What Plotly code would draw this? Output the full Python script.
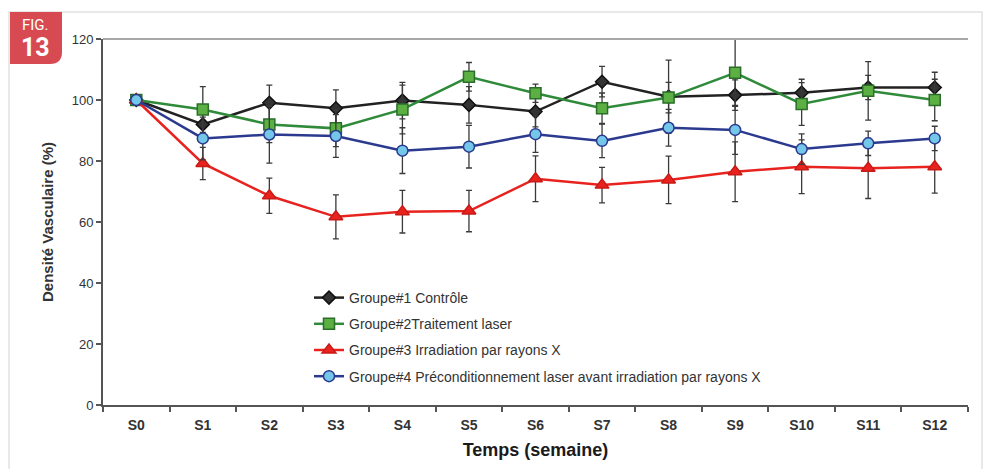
import plotly.graph_objects as go

categories = ["S0", "S1", "S2", "S3", "S4", "S5", "S6", "S7", "S8", "S9", "S10", "S11", "S12"]

g1_name = "Groupe#1 Contrôle"
g1_vals = [100, 92.0, 99.1, 97.3, 99.8, 98.4, 96.2, 106.0, 101.1, 101.6, 102.4, 104.1, 104.1]
g1_err = [0, 5, 5.8, 6, 6, 6, 5, 5, 12, 5, 4.4, 4, 5]

g2_name = "Groupe#2Traitement laser"
g2_vals = [100, 96.9, 92.0, 90.7, 96.9, 107.6, 102.2, 97.3, 100.8, 108.9, 98.7, 103.0, 100.0]
g2_err = [0, 7.5, 6, 6, 8, 4.7, 3, 5, 5, 11, 7, 9.6, 6.8]

g3_name = "Groupe#3 Irradiation par rayons X"
g3_vals = [100, 79.2, 68.6, 61.7, 63.4, 63.6, 74.2, 72.1, 73.8, 76.5, 78.1, 77.6, 78.1]
g3_err = [0, 5.3, 5.8, 7.2, 7.0, 6.8, 7.5, 5.8, 7.8, 9.8, 8.8, 9.9, 8.6]

g4_name = "Groupe#4 Préconditionnement laser avant irradiation par rayons X"
g4_vals = [100, 87.4, 88.7, 88.2, 83.4, 84.7, 88.8, 86.6, 90.9, 90.2, 83.9, 85.8, 87.4]
g4_err = [0, 7, 9.4, 7, 7.5, 7, 6, 5.5, 6, 8, 5, 4, 4]

y_ticks = [0, 20, 40, 60, 80, 100, 120]

# page body has an 8px margin; work in window pixels and convert
OFF = 8
W, H = 996 - OFF, 469 - OFF
L, R, T, B = 103 - OFF, 28, 39 - OFF, 64


def px(x):
    return (x - OFF - L) / (W - L - R)


def py(y):
    return (H - B - (y - OFF)) / (H - T - B)


fig = go.Figure()

series = [
    (g1_name, g1_vals, g1_err, "#222222", "diamond", 10, "#333333", "#111111"),
    (g2_name, g2_vals, g2_err, "#2f8a3a", "square", 11, "#5cb043", "#2a6e2a"),
    (g3_name, g3_vals, g3_err, "#e8231f", "triangle-up", 12, "#e8231f", "#c81a16"),
    (g4_name, g4_vals, g4_err, "#2b3a8f", "circle", 11, "#74c7e8", "#2b3a8f"),
]

for i, (name, vals, err, lc, sym, sz, fc, oc) in enumerate(series):
    fig.add_trace(go.Scatter(
        x=categories, y=vals, name=name, mode="lines+markers",
        legendgroup=f"g{i}",
        line=dict(color=lc, width=2.5),
        marker=dict(symbol=sym, size=sz, color=fc, line=dict(color=oc, width=1.5)),
        error_y=dict(type="data", array=err, visible=True, color="#3a3a3a", thickness=1.3, width=3),
    ))

shapes = [
    # card
    dict(type="rect", xref="paper", yref="paper", x0=px(9), x1=px(982), y0=py(480), y1=py(12),
         line=dict(color="#e2e2e2", width=1.5), fillcolor="rgba(0,0,0,0)", layer="below"),
    # top border of plot
    dict(type="line", xref="paper", yref="paper", x0=0, x1=1, y0=1, y1=1,
         line=dict(color="#a8a8a8", width=2)),
    # figure badge with rounded bottom-right corner
    dict(type="path", xref="paper", yref="paper",
         path=(f"M {px(10)},{py(12)} L {px(62)},{py(12)} L {px(62)},{py(52)} "
               f"Q {px(62)},{py(64)} {px(50)},{py(64)} L {px(10)},{py(64)} Z"),
         fillcolor="#d84a52", line=dict(width=0)),
]

annotations = [
    dict(xref="paper", yref="paper", x=px(35), y=py(25), text="FIG.", showarrow=False,
         xanchor="center", yanchor="middle",
         font=dict(family="Roboto, Liberation Sans", size=15, color="white")),
    dict(xref="paper", yref="paper", x=px(35), y=py(47), text="<b>13</b>", showarrow=False,
         xanchor="center", yanchor="middle",
         font=dict(family="Roboto, Liberation Sans", size=25, color="white")),
]

fig.update_layout(
    width=W, height=H,
    margin=dict(l=L, r=R, t=T, b=B),
    paper_bgcolor="white", plot_bgcolor="white",
    font=dict(family="Liberation Sans, Arial", color="#333333"),
    shapes=shapes, annotations=annotations,
    showlegend=True,
    legend=dict(x=px(309), y=py(282), xanchor="left", yanchor="top",
                bgcolor="rgba(0,0,0,0)", font=dict(size=14, color="#333333"),
                tracegroupgap=5, itemwidth=30),
    xaxis=dict(
        type="category", range=[-0.5, 12.5], tickson="boundaries",
        ticks="outside", ticklen=5, tickcolor="#555555", tickwidth=1.5,
        showline=True, linecolor="#555555", linewidth=2, showgrid=False,
        tickfont=dict(size=14, color="#333333", family="Liberation Sans"),
        tickprefix="<b>", ticksuffix="</b>", ticklabelstandoff=6,
        title=dict(text="<b>Temps (semaine)</b>", font=dict(size=18, color="#1a1a1a"), standoff=12),
    ),
    yaxis=dict(
        range=[0, 120], tickvals=y_ticks, ticks="outside", ticklen=5,
        tickcolor="#555555", tickwidth=1.5,
        showline=True, linecolor="#555555", linewidth=2, showgrid=False, zeroline=False,
        tickfont=dict(size=13, color="#333333"),
        tickprefix="<b>", ticksuffix="</b>",
        title=dict(text="<b>Densité Vasculaire (%)</b>", font=dict(size=15, color="#333333"), standoff=14),
    ),
)

fig.write_html("out.html")
